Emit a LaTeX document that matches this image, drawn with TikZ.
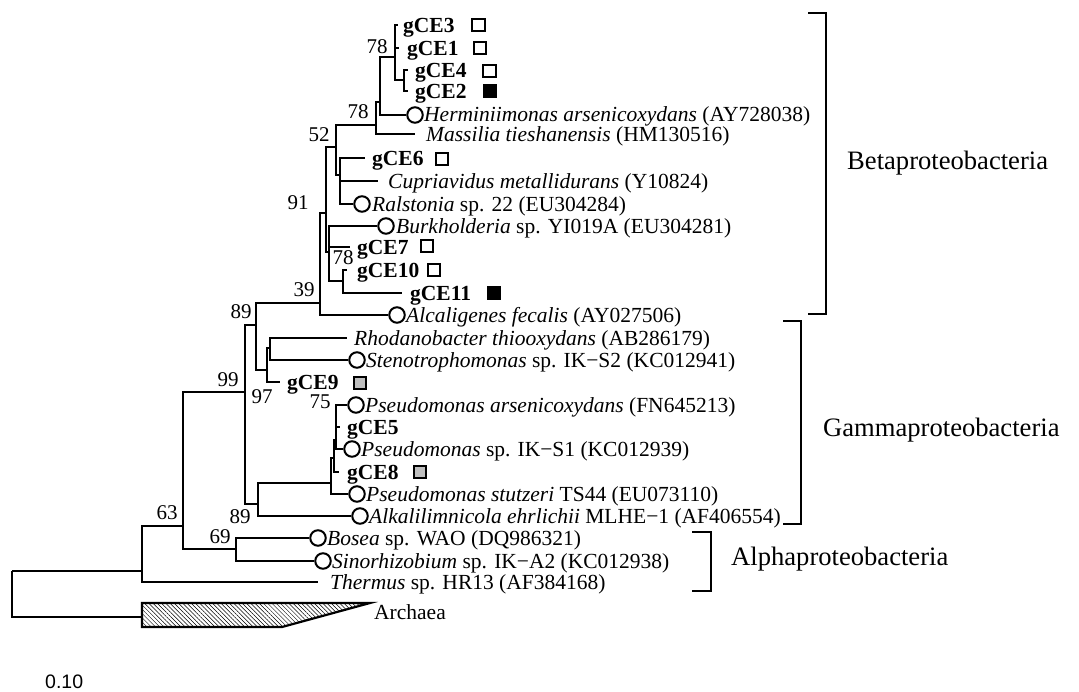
\documentclass[tikz,border=0pt]{standalone}
\usepackage{fontspec}
\setmainfont{Liberation Serif}
\newfontfamily\sansf{Liberation Sans}
\usetikzlibrary{patterns.meta}
\definecolor{sqgrey}{gray}{0.75}
\begin{document}
\begin{tikzpicture}[x=1pt,y=-1pt,
 br/.style={line width=2.2pt},
 leaf/.style={anchor=base west, inner sep=0pt, font=\fontsize{21.5}{24}\selectfont},
 gce/.style={anchor=base west, inner sep=0pt, font=\fontsize{21.5}{24}\selectfont\bfseries},
 boot/.style={inner sep=0pt, font=\fontsize{21}{23}\selectfont},
 grp/.style={anchor=west, inner sep=0pt, font=\fontsize{26.6}{30}\selectfont},
 circ/.style={circle, draw, line width=2pt, fill=white, minimum size=15.5pt, inner sep=0pt},
 sq/.style={draw, line width=1.8pt, minimum size=12.5pt, inner sep=0pt},
 brk/.style={line width=1.6pt}]
\useasboundingbox (0,0) rectangle (1079,692);

% internal nodes and branch ends
\coordinate (root) at (12,571);
\coordinate (nB) at (142,571);
\coordinate (arch) at (142,617);
\coordinate (nC) at (183,526);
\coordinate (eTher) at (318,582);
\coordinate (nE) at (236,549);
\coordinate (nD) at (245,392);
\coordinate (nF) at (256,325);
\coordinate (nG) at (258,504);
\coordinate (nP) at (331,483);
\coordinate (nQ) at (334,458);
\coordinate (nR) at (336,440);
\coordinate (eCE8) at (339,472);
\coordinate (eCE5) at (340,427);
\coordinate (nH) at (320,303);
\coordinate (nI) at (267,370);
\coordinate (nJ) at (270,348);
\coordinate (eCE9) at (280,382);
\coordinate (eRho) at (347,338);
\coordinate (nK) at (326,213);
\coordinate (nL) at (336,147);
\coordinate (nM) at (329,252);
\coordinate (eCE7) at (350,247);
\coordinate (nN) at (343,281);
\coordinate (eCE10) at (347,270);
\coordinate (eCE11) at (402,293);
\coordinate (nO) at (376,125);
\coordinate (nS) at (340,175);
\coordinate (eCE6) at (365,158);
\coordinate (eCup) at (378,181);
\coordinate (nT) at (380,102);
\coordinate (eMas) at (415,134);
\coordinate (nU) at (395,57);
\coordinate (eCE3) at (398,25);
\coordinate (eCE1) at (399,48);
\coordinate (nV) at (404,80);
\coordinate (eCE4) at (408,70);
\coordinate (eCE2) at (408,91);

% circle leaves
\node[circ] (cHer) at (415,115) {};
\node[circ] (cRal) at (362,204) {};
\node[circ] (cBur) at (386,226) {};
\node[circ] (cAlc) at (397,315) {};
\node[circ] (cSte) at (357,360) {};
\node[circ] (cPar) at (356,405) {};
\node[circ] (cIK1) at (352,449) {};
\node[circ] (cStu) at (357,494) {};
\node[circ] (cAlk) at (360,516) {};
\node[circ] (cBos) at (318,538) {};
\node[circ] (cSin) at (323,561) {};

% branches
\draw[br] (root) |- (nB);  \draw[br] (root) |- (arch);
\draw[br] (nB) |- (nC);    \draw[br] (nB) |- (eTher);
\draw[br] (nC) |- (nD);    \draw[br] (nC) |- (nE);
\draw[br] (nE) |- (cBos);  \draw[br] (nE) |- (cSin);
\draw[br] (nD) |- (nF);    \draw[br] (nD) |- (nG);
\draw[br] (nG) |- (nP);    \draw[br] (nG) |- (cAlk);
\draw[br] (nP) |- (nQ);    \draw[br] (nP) |- (cStu);
\draw[br] (nQ) |- (nR);    \draw[br] (nQ) |- (eCE8);
\draw[br] (nR) |- (cPar);  \draw[br] (nR) |- (eCE5);  \draw[br] (nR) |- (cIK1);
\draw[br] (nF) |- (nH);    \draw[br] (nF) |- (nI);
\draw[br] (nI) |- (nJ);    \draw[br] (nI) |- (eCE9);
\draw[br] (nJ) |- (eRho);  \draw[br] (nJ) |- (cSte);
\draw[br] (nH) |- (nK);    \draw[br] (nH) |- (cAlc);
\draw[br] (nK) |- (nL);    \draw[br] (nK) |- (nM);
\draw[br] (nM) |- (cBur);  \draw[br] (nM) |- (eCE7);  \draw[br] (nM) |- (nN);
\draw[br] (nN) |- (eCE10); \draw[br] (nN) |- (eCE11);
\draw[br] (nL) |- (nO);    \draw[br] (nL) |- (nS);
\draw[br] (nS) |- (eCE6);  \draw[br] (nS) |- (eCup);  \draw[br] (nS) |- (cRal);
\draw[br] (nO) |- (nT);    \draw[br] (nO) |- (eMas);
\draw[br] (nT) |- (nU);    \draw[br] (nT) |- (cHer);
\draw[br] (nU) |- (eCE3);  \draw[br] (nU) |- (eCE1);  \draw[br] (nU) |- (nV);
\draw[br] (nV) |- (eCE4);  \draw[br] (nV) |- (eCE2);

% Archaea wedge
\draw[line width=2.2pt, line join=miter, pattern={Lines[angle=-45,distance=3pt,line width=0.5pt]}]
  (142,603) -- (370,603) -- (282,627) -- (142,627) -- cycle;

% leaf labels
\node[gce] (tCE3) at (403,32.5) {gCE3};
\node[gce] (tCE1) at (407,55.5) {gCE1};
\node[gce] (tCE4) at (415,77.5) {gCE4};
\node[gce] (tCE2) at (415,98.5) {gCE2};
\node[leaf] (tHer) at (424,122) {\itshape Herminiimonas arsenicoxydans\upshape{} (AY728038)};
\node[leaf] (tMas) at (426,142) {\itshape Massilia tieshanensis\upshape{} (HM130516)};
\node[gce] (tCE6) at (372,165.5) {gCE6};
\node[leaf] (tCup) at (388,188.5) {\itshape Cupriavidus metallidurans\upshape{} (Y10824)};
\node[leaf] (tRal) at (372,211.5) {\itshape Ralstonia\upshape{} sp. 22 (EU304284)};
\node[leaf] (tBur) at (396,233.5) {\itshape Burkholderia\upshape{} sp. YI019A (EU304281)};
\node[gce] (tCE7) at (357,254.5) {gCE7};
\node[gce] (tCE10) at (357,277.5) {gCE10};
\node[gce] (tCE11) at (410,300.5) {gCE11};
\node[leaf] (tAlc) at (406,322.5) {\itshape Alcaligenes fecalis\upshape{} (AY027506)};
\node[leaf] (tRho) at (354,345.5) {\itshape Rhodanobacter thiooxydans\upshape{} (AB286179)};
\node[leaf] (tSte) at (366,367.5) {\itshape Stenotrophomonas\upshape{} sp. IK−S2 (KC012941)};
\node[gce] (tCE9) at (287,389.5) {gCE9};
\node[leaf] (tPar) at (365,412.5) {\itshape Pseudomonas arsenicoxydans\upshape{} (FN645213)};
\node[gce] (tCE5) at (347,434.5) {gCE5};
\node[leaf] (tIK1) at (361,456.5) {\itshape Pseudomonas\upshape{} sp. IK−S1 (KC012939)};
\node[gce] (tCE8) at (347,479.5) {gCE8};
\node[leaf] (tStu) at (366,501.5) {\itshape Pseudomonas stutzeri\upshape{} TS44 (EU073110)};
\node[leaf] (tAlk) at (369,523.5) {\itshape Alkalilimnicola ehrlichii\upshape{} MLHE−1 (AF406554)};
\node[leaf] (tBos) at (327,545.5) {\itshape Bosea\upshape{} sp. WAO (DQ986321)};
\node[leaf] (tSin) at (332,568.5) {\itshape Sinorhizobium\upshape{} sp. IK−A2 (KC012938)};
\node[leaf] (tThe) at (330,589.5) {\itshape Thermus\upshape{} sp. HR13 (AF384168)};
\node[leaf] (tArc) at (374,619.5) {Archaea};

% markers
\node[sq] (sCE3) at (478.5,25) {};
\node[sq] (sCE1) at (480,48) {};
\node[sq] (sCE4) at (489.5,71) {};
\node[sq, fill=black] (sCE2) at (490,91) {};
\node[sq] (sCE6) at (442,159) {};
\node[sq] (sCE7) at (427,246) {};
\node[sq] (sCE10) at (434,270) {};
\node[sq, fill=black] (sCE11) at (494,293) {};
\node[sq, fill=sqgrey] (sCE9) at (360,383) {};
\node[sq, fill=sqgrey] (sCE8) at (420,472) {};

% bootstrap values
\node[boot] (b78a) at (377,47) {78};
\node[boot] (b78b) at (358,112) {78};
\node[boot] (b52) at (319,135) {52};
\node[boot] (b91) at (298,203) {91};
\node[boot] (b78c) at (343,258) {78};
\node[boot] (b39) at (304,290) {39};
\node[boot] (b89a) at (241,312) {89};
\node[boot] (b99) at (228,380) {99};
\node[boot] (b97) at (262,397) {97};
\node[boot] (b75) at (320,402) {75};
\node[boot] (b89b) at (240,517) {89};
\node[boot] (b63) at (167,513) {63};
\node[boot] (b69) at (220,537) {69};

% group brackets and labels
\draw[brk] (808,13) -- (826,13) -- (826,314) -- (808,314);
\draw[brk] (783,321) -- (801,321) -- (801,524) -- (783,524);
\draw[brk] (692,532) -- (711,532) -- (711,591) -- (692,591);
\node[grp] (gBeta) at (847,163) {Betaproteobacteria};
\node[grp] (gGamma) at (823,430) {Gammaproteobacteria};
\node[grp] (gAlpha) at (731,559) {Alphaproteobacteria};

% scale
\node[anchor=west, inner sep=0pt, font=\sansf\fontsize{19.5}{22}\selectfont] (scale) at (45,682) {0.10};
\end{tikzpicture}
\end{document}
